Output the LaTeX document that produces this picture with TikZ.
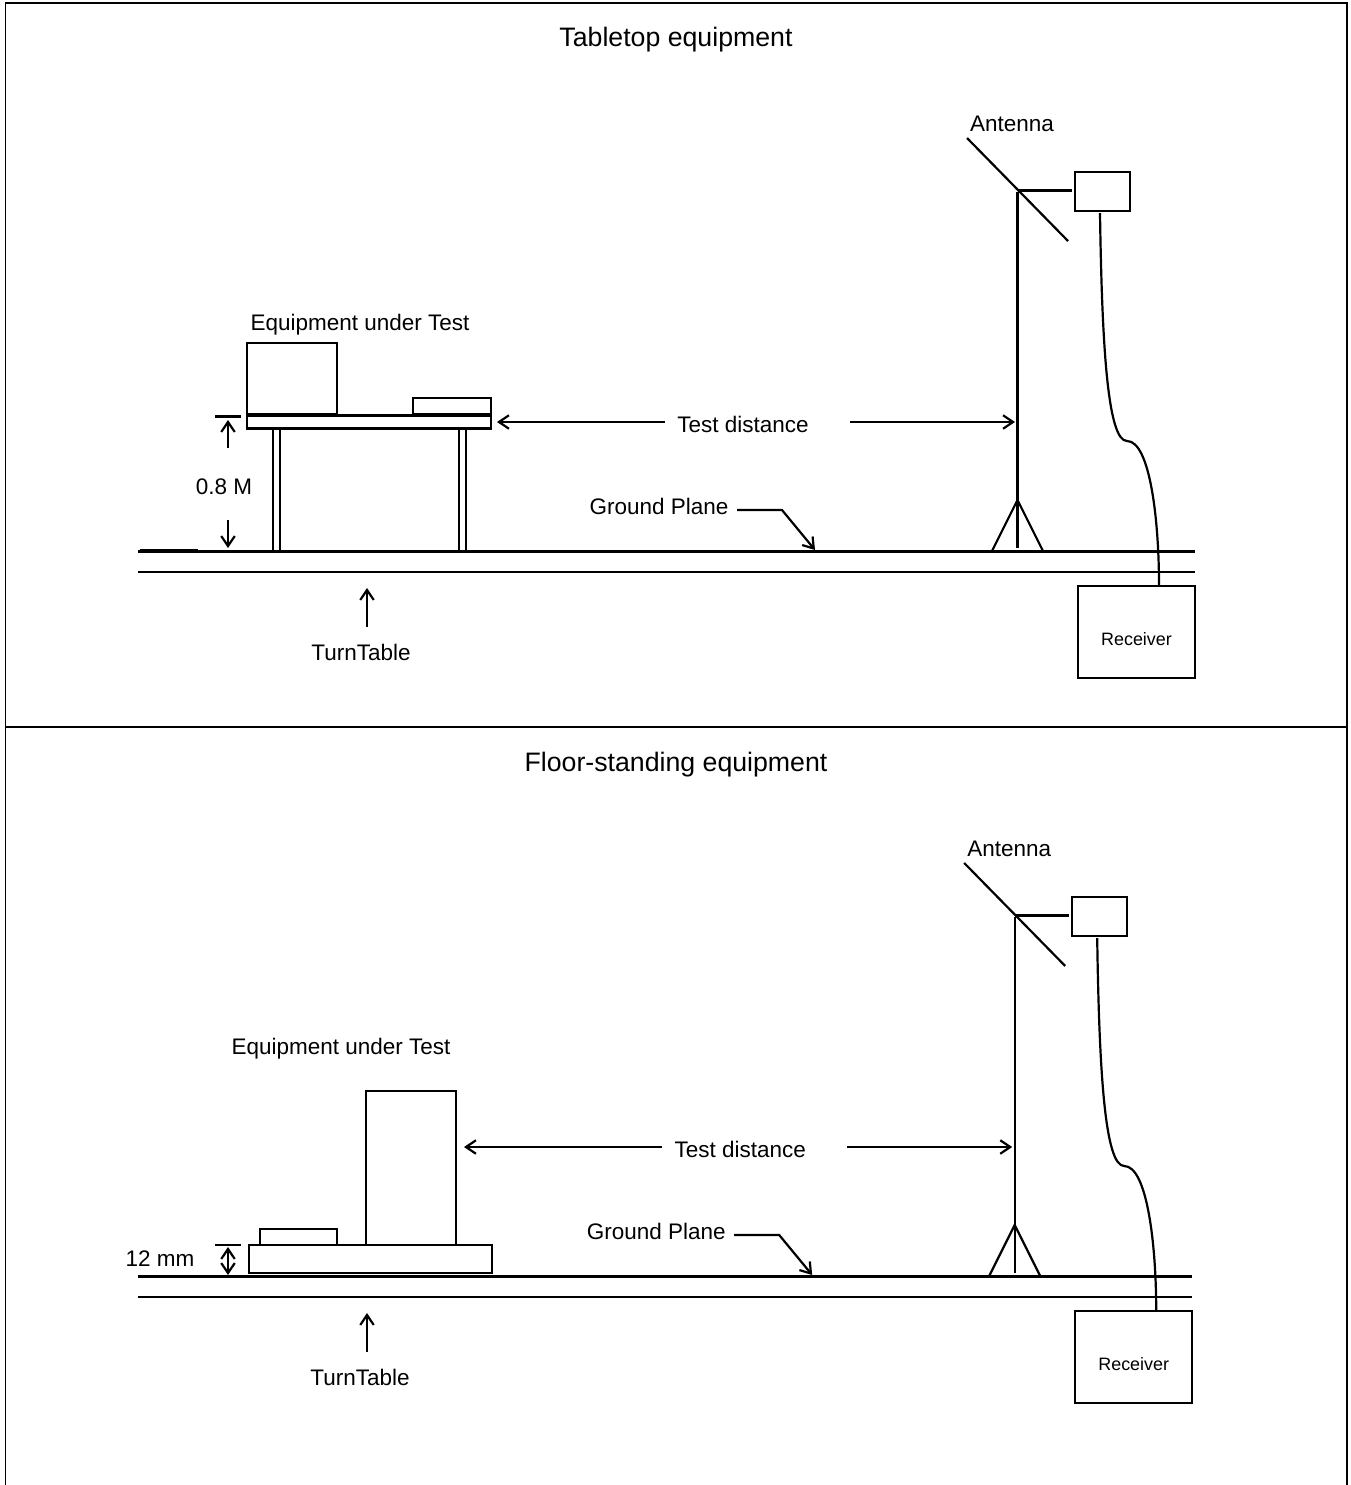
\documentclass[tikz,border=0pt]{standalone}
\usepackage{fontspec}
\setmainfont{Liberation Sans}
\usepackage{tikz}
\usetikzlibrary{arrows.meta}
\tikzset{
  ln/.style={line width=0.044cm,color=black},
  arr/.style={ln,-{Straight Barb[length=0.2cm,width=0.27cm,line width=0.044cm]}},
  dblarr/.style={ln,{Straight Barb[length=0.2cm,width=0.27cm,line width=0.044cm]}-{Straight Barb[length=0.2cm,width=0.27cm,line width=0.044cm]}},
  box/.style={ln,draw,inner sep=0pt,outer sep=0pt},
  title/.style={font=\fontsize{15.2pt}{17pt}\selectfont,inner sep=0pt},
  lab/.style={font=\fontsize{12.8pt}{15pt}\selectfont,inner sep=0pt},
  small/.style={font=\fontsize{10.2pt}{12pt}\selectfont,inner sep=0pt}
}
\begin{document}
\begin{tikzpicture}[x=0.02cm,y=-0.02cm]
  \useasboundingbox (0,0) rectangle (1351,1485);
  \draw[line width=0.04cm] (5.5,1485) -- (5.5,3) -- (1347,3) -- (1347,1485);
  \draw[line width=0.04cm] (5.5,727) -- (1347,727);
  \node[title] (titlea) at (676,40) {Tabletop equipment};
  \node[title] (titleb) at (676,765) {Floor-standing equipment};
  % parts found in both panels
  \foreach \p/\dx/\dy/\tx/\el in {a/0/0/361/497, b/-2.8/725/362.8/466.8} {
    \begin{scope}[shift={(\dx,\dy)}]
      \draw[ln] (138-\dx,551.4) -- (1194.5,551.4);
      \draw[ln] (138-\dx,572) -- (1194.5,572);
      \node[box,minimum width=2.34cm,minimum height=1.84cm] (recv\p) at (1136.5,632) {};
      \node[small] (recvtxt\p) at (1136.5,639) {Receiver};
      \node[box,minimum width=1.1cm,minimum height=0.78cm] (abox\p) at (1102.5,191.5) {};
      \node[lab] (anttxt\p) at (1012,124) {Antenna};
      \coordinate (dipa\p) at (967,138);
      \coordinate (dipb\p) at (1068,241);
      \coordinate (mast\p) at (1017.5,192);
      \coordinate (foot\p) at (1017.5,548);
      \coordinate (apex\p) at (1017.5,500);
      \coordinate (lega\p) at (992,551);
      \coordinate (legb\p) at (1043,551);
      \coordinate (boom\p) at (1072,190.5);
      \coordinate (cab\p) at (1100,213);
      \coordinate (kink\p) at (1127,441);
      \coordinate (cabe\p) at (1159,585);
      \draw[ln] (dipa\p) -- (dipb\p);
      \draw[ln] (mast\p) -- (foot\p);
      \draw[ln] (1018,190.5) -- (boom\p);
      \draw[ln] (lega\p) -- (apex\p) -- (legb\p);
      \draw[ln] (cab\p) .. controls (1102,350) and (1108,441) .. (kink\p) .. controls (1150,441) and (1159,520) .. (cabe\p);
      \node[lab] (dist\p) at (743,424) {Test distance};
      \coordinate (dla\p) at (665,422);
      \coordinate (dlb\p) at (\el,422);
      \coordinate (dra\p) at (850,422);
      \coordinate (drb\p) at (1015,422);
      \draw[arr] (dla\p) -- (dlb\p);
      \draw[arr] (dra\p) -- (drb\p);
      \node[lab] (gnd\p) at (659,506) {Ground Plane};
      \coordinate (gla\p) at (737,510);
      \coordinate (glb\p) at (782,510);
      \coordinate (glc\p) at (815,550);
      \draw[arr] (gla\p) -- (glb\p) -- (glc\p);
      \node[lab] (turn\p) at (\tx,652) {TurnTable};
      \coordinate (tua\p) at (367-\dx,627);
      \coordinate (tub\p) at (367-\dx,588);
      \draw[arr] (tua\p) -- (tub\p);
    \end{scope}
  }
  % tabletop
  \node[lab] (euta) at (360,325) {Equipment under Test};
  \node[box,minimum width=1.8cm,minimum height=1.42cm] (boxa) at (292,378.5) {};
  \node[box,minimum width=1.56cm,minimum height=0.32cm] (boxc) at (452,406) {};
  \node[box,minimum width=4.88cm,minimum height=0.26cm] (table) at (369,422) {};
  \draw[ln] (273,428) -- (273,551);
  \draw[ln] (280,428) -- (280,551);
  \draw[ln] (459,428) -- (459,551);
  \draw[ln] (466,428) -- (466,551);
  \draw[ln] (140,550.4) -- (198,550.4);
  \draw[ln] (215,416.5) -- (241,416.5);
  \draw[arr] (228,448) -- (228,420);
  \draw[arr] (228,520) -- (228,548);
  \node[lab] (hgt) at (224,487) {0.8 M};
  % floor-standing
  \node[lab] (eutb) at (341,1049) {Equipment under Test};
  \node[box,minimum width=1.8cm,minimum height=3.08cm] (boxb) at (411,1168) {};
  \node[box,minimum width=1.54cm,minimum height=0.32cm] (boxd) at (298.5,1237) {};
  \node[box,minimum width=4.86cm,minimum height=0.566cm] (base) at (370.5,1259.15) {};
  \draw[ln] (215,1245) -- (241,1245);
  \draw[dblarr] (228,1247) -- (228,1275);
  \node[lab] (mm) at (160,1259) {12 mm};
\end{tikzpicture}
\end{document}
